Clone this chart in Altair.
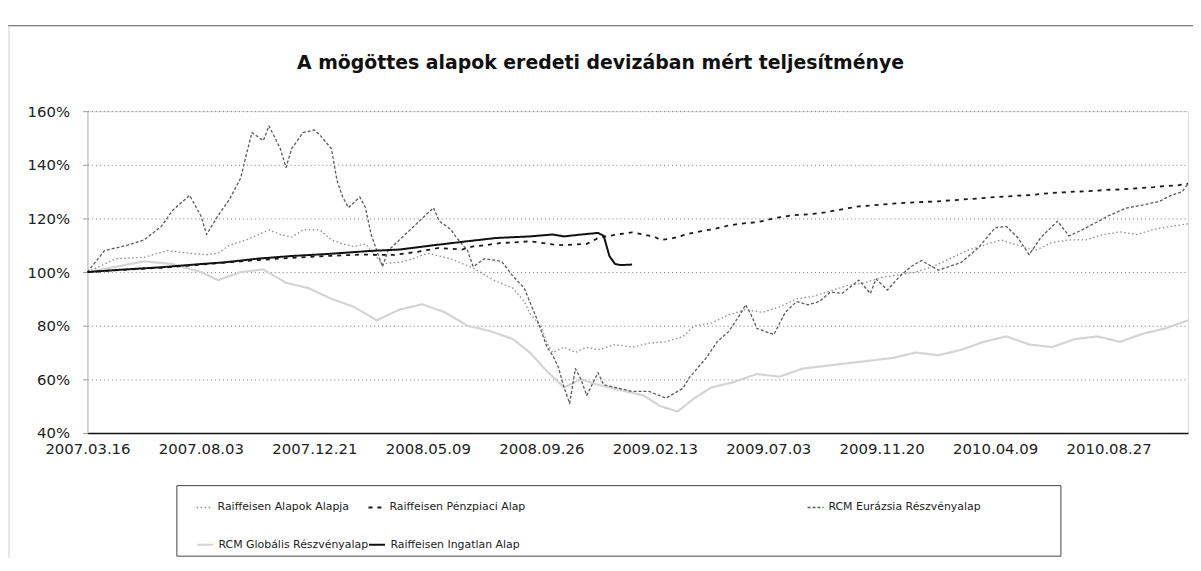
import altair as alt
import pandas as pd

START = "2007-03-16"
SERIES = [
    "Raiffeisen Alapok Alapja",
    "Raiffeisen Pénzpiaci Alap",
    "RCM Eurázsia Részvényalap",
    "RCM Globális Részvényalap",
    "Raiffeisen Ingatlan Alap",
]

# weeks since 2007.03.16 and index values (%)
alapok_weeks = [0, 3, 5, 10, 14, 18, 21, 23, 25, 28, 32, 34, 36, 38, 41, 43, 45, 47, 49, 52, 56, 60, 64, 68, 70,
                72, 75, 77, 78, 80, 81, 82, 84, 86, 88, 90, 93, 96, 99, 102, 105, 107, 110, 113, 116, 119, 122,
                125, 128, 131, 134, 137, 140, 143, 146, 149, 152, 155, 158, 161, 164, 167, 170, 173, 176, 179,
                182, 185, 188, 191, 194]
alapok_vals = [100, 103, 105, 105.5, 108, 107, 106.5, 107, 110, 112, 115.7, 114, 113, 115.7, 115.7, 112, 110.5,
               109.5, 110.5, 103, 104, 107, 105, 101.5, 99, 96.6, 94, 89, 84.6, 79.6, 73.5, 70, 72, 70, 72, 71,
               73, 72, 73.5, 74, 76, 80, 81, 84, 86, 85, 87, 90, 91, 93, 95, 96, 98, 99, 100, 102, 105, 108,
               110, 112, 110, 108, 111, 112, 112, 114, 115, 114, 116, 117, 118]

penz_weeks = [0, 6, 13, 20, 30, 40, 48, 54, 58, 62, 66, 68, 70, 73, 75, 78, 82, 84, 86, 88, 90, 92, 94, 96, 98,
              100, 101, 103, 106, 108, 110, 112, 113, 115, 118, 120, 121, 124, 126, 128, 130, 132, 134, 136, 138,
              140, 142, 144, 146, 148, 150, 152, 154, 156, 158, 160, 162, 164, 166, 168, 170, 172, 174, 176, 178,
              180, 182, 184, 186, 188, 190, 192, 194]
penz_vals = [100, 100.8, 101.6, 102.8, 104.5, 105.8, 106.5, 106.4, 107.5, 109, 108.4, 109.6, 110, 110.9, 111,
             111.5, 110.3, 110, 110.3, 110.5, 112.7, 113.5, 114.2, 114.8, 114, 113.1, 112, 112.5, 114.3, 115.2,
             115.9, 116.8, 117.4, 118, 118.6, 119.5, 120.1, 121.1, 121.4, 121.7, 122.3, 123, 123.8, 124.5, 124.8,
             125.2, 125.5, 125.8, 126, 126.2, 126.4, 126.7, 127, 127.3, 127.6, 128, 128.2, 128.5, 128.7, 129.1,
             129.5, 129.7, 130, 130.1, 130.4, 130.7, 130.8, 131.1, 131.4, 131.7, 132.1, 132.3, 133]

eur_weeks = [0, 3, 7, 10, 13, 15, 18, 20, 21, 23, 25, 27, 28, 29, 31, 32, 34, 35, 36, 38, 40, 41, 43, 44, 45, 46,
             48, 49, 50, 52, 53, 55, 57, 59, 61, 62, 64, 65, 67, 68, 70, 73, 75, 77, 78, 79, 80, 81, 82, 83, 84,
             85, 86, 87, 88, 90, 91, 93, 96, 99, 102, 105, 106, 109, 111, 113, 115, 116, 117, 118, 121, 123, 125,
             127, 129, 131, 133, 136, 138, 139, 141, 143, 145, 147, 150, 154, 157, 160, 162, 164, 166, 168, 171,
             173, 175, 177, 180, 183, 186, 189, 191, 193, 194]
eur_vals = [100, 108, 110, 112, 117, 123, 128.6, 121, 114, 121, 127, 135, 143.8, 152, 149, 154.5, 146, 139, 146,
            152, 153, 151, 146, 134, 128, 124, 128, 124, 114, 102, 108, 112, 116, 120, 124, 119, 116, 113, 108,
            102, 105, 104, 98.5, 94, 88.7, 83.7, 78, 72, 69, 64.6, 57, 51, 64, 60, 54, 62.5, 58, 57, 55.5, 55.5,
            53, 56.7, 60.4, 67.8, 74, 77.8, 84, 87.8, 84, 79, 76.7, 85, 89, 87.8, 89, 92.6, 92, 97, 92, 97.4,
            93.3, 98, 101.8, 104.3, 100.7, 103.6, 109, 116.5, 117, 112.8, 106.5, 112.8, 119, 113.5, 115.4,
            117.6, 121, 123.8, 125, 126.4, 128.6, 130, 133]

glob_weeks = [0, 5, 10, 15, 20, 23, 27, 31, 35, 39, 43, 47, 51, 55, 59, 63, 67, 71, 75, 78, 81, 84, 87, 90, 94,
              98, 101, 104, 107, 110, 114, 118, 122, 126, 130, 134, 138, 142, 146, 150, 154, 158, 162, 166, 170,
              174, 178, 182, 186, 190, 194]
glob_vals = [100, 102, 104, 103, 100, 97, 100, 101, 96, 94, 90, 87, 82, 86, 88, 85, 80, 78, 75, 70, 63, 57, 60,
             58, 56, 54, 50, 48, 53, 57, 59, 62, 61, 64, 65, 66, 67, 68, 70, 69, 71, 74, 76, 73, 72, 75, 76, 74,
             77, 79, 82]

ing_weeks = [0, 6, 13, 20, 24, 30, 36, 42, 50, 55, 61, 67, 72, 78, 82, 84, 87, 90, 91, 92, 93, 94, 95, 96]
ing_vals = [100, 100.9, 101.8, 103, 103.6, 105, 106, 106.7, 107.9, 108.4, 110, 111.5, 112.7, 113.3, 114, 113.3,
            114, 114.6, 113.5, 106, 103, 102.6, 102.7, 102.8]

TICK_DATES = [(2007, 3, 16), (2007, 8, 3), (2007, 12, 21), (2008, 5, 9), (2008, 9, 26), (2009, 2, 13),
              (2009, 7, 3), (2009, 11, 20), (2010, 4, 9), (2010, 8, 27)]
Y_TICKS = [40, 60, 80, 100, 120, 140, 160]

COLORS = ["#8c8c8c", "#1a1a1a", "#5a5a5a", "#d4d4d4", "#111111"]
DASHES = [[1.5, 2.5], [4, 5], [3, 2], [1, 0], [1, 0]]
WIDTHS = [1.3, 1.8, 1.3, 2.2, 2.0]
# legend entry positions (column, row) in the Excel-like legend box
LEGEND_X = [109, 282, 724, 109, 282]
LEGEND_Y = [390, 390, 390, 427, 427]

rows = []
for name, wk, vals in [
    (SERIES[0], alapok_weeks, alapok_vals),
    (SERIES[1], penz_weeks, penz_vals),
    (SERIES[2], eur_weeks, eur_vals),
    (SERIES[3], glob_weeks, glob_vals),
    (SERIES[4], ing_weeks, ing_vals),
]:
    for w, v in zip(wk, vals):
        d = pd.Timestamp(START) + pd.Timedelta(weeks=w)
        rows.append({"series": name, "date": d.strftime("%Y-%m-%d"), "value": v})
df = pd.DataFrame(rows)

FONT = "DejaVu Sans"

x_enc = alt.X(
    "date:T",
    scale=alt.Scale(type="utc", domain=[alt.DateTime(year=2007, month=3, date=16, utc=True),
                                        alt.DateTime(year=2010, month=12, date=3, utc=True)]),
    axis=alt.Axis(
        values=[alt.DateTime(year=y, month=m, date=d, utc=True) for y, m, d in TICK_DATES],
        labelExpr="utcFormat(datum.value, '%Y.%m.%d')", title=None, grid=False, ticks=False,
        labelPadding=9, labelFont=FONT, labelFontSize=15, labelColor="#222", labelFlush=False,
        domainColor="#111", domainWidth=1.3, labelOverlap=False,
    ),
)
y_enc = alt.Y(
    "value:Q",
    scale=alt.Scale(domain=[40, 160], nice=False, zero=False),
    axis=alt.Axis(
        values=Y_TICKS, labelExpr="datum.value + '%'", title=None, grid=True, gridDash=[1, 3],
        gridColor="#777", gridWidth=1, domainColor="#bbbbbb", tickColor="#999", tickSize=5,
        labelPadding=13, labelFont=FONT, labelFontSize=15, labelColor="#222",
    ),
)


def series_layer(i):
    s = SERIES[i]
    leg = alt.Legend(
        title=None, orient="none", legendX=LEGEND_X[i], legendY=LEGEND_Y[i], symbolType="stroke",
        symbolSize=260, labelFont=FONT, labelFontSize=11, labelColor="#222", labelLimit=400, padding=0,
    )
    return alt.Chart(df).transform_filter(alt.datum.series == s).mark_line(
        strokeCap="butt", strokeJoin="round"
    ).encode(
        x=x_enc,
        y=y_enc,
        color=alt.Color("series:N", scale=alt.Scale(domain=[s], range=[COLORS[i]]), legend=leg),
        strokeDash=alt.StrokeDash("series:N", scale=alt.Scale(domain=[s], range=[DASHES[i]]), legend=leg),
        strokeWidth=alt.StrokeWidth("series:N", scale=alt.Scale(type="ordinal", domain=[s], range=[WIDTHS[i]]),
                                    legend=leg),
    )


one = pd.DataFrame({"k": [0]})
legend_frame = alt.Chart(one).mark_rect(fill=None, stroke="#444", strokeWidth=1).encode(
    x=alt.value(90), x2=alt.value(980), y=alt.value(377), y2=alt.value(448)
)
top_border = alt.Chart(one).mark_rule(color="#555", strokeWidth=1.2).encode(
    x=alt.value(-80), x2=alt.value(1113), y=alt.value(-86)
)
left_border = alt.Chart(one).mark_rule(color="#cfcfcf", strokeWidth=1).encode(
    x=alt.value(-79), y=alt.value(-86), y2=alt.value(450)
)

draw_order = [3, 0, 2, 1, 4]
layers = [series_layer(i) for i in draw_order]

chart = alt.layer(top_border, left_border, *layers, legend_frame).resolve_scale(
    color="independent", strokeDash="independent", strokeWidth="independent"
).properties(
    width=1108, height=324,
    padding={"left": 80, "top": 102, "right": 5, "bottom": 125},
    autosize=alt.AutoSizeParams(type="none"),
    title=alt.TitleParams(
        "A mögöttes alapok eredeti devizában mért teljesítménye", font=FONT, fontSize=19,
        fontWeight="bold", color="#111", anchor="middle", frame="bounds", offset=38, dy=86,
    ),
).configure_view(stroke=None).configure(background="white")

chart.save("out.html", embed_options={"renderer": "svg", "actions": False})
